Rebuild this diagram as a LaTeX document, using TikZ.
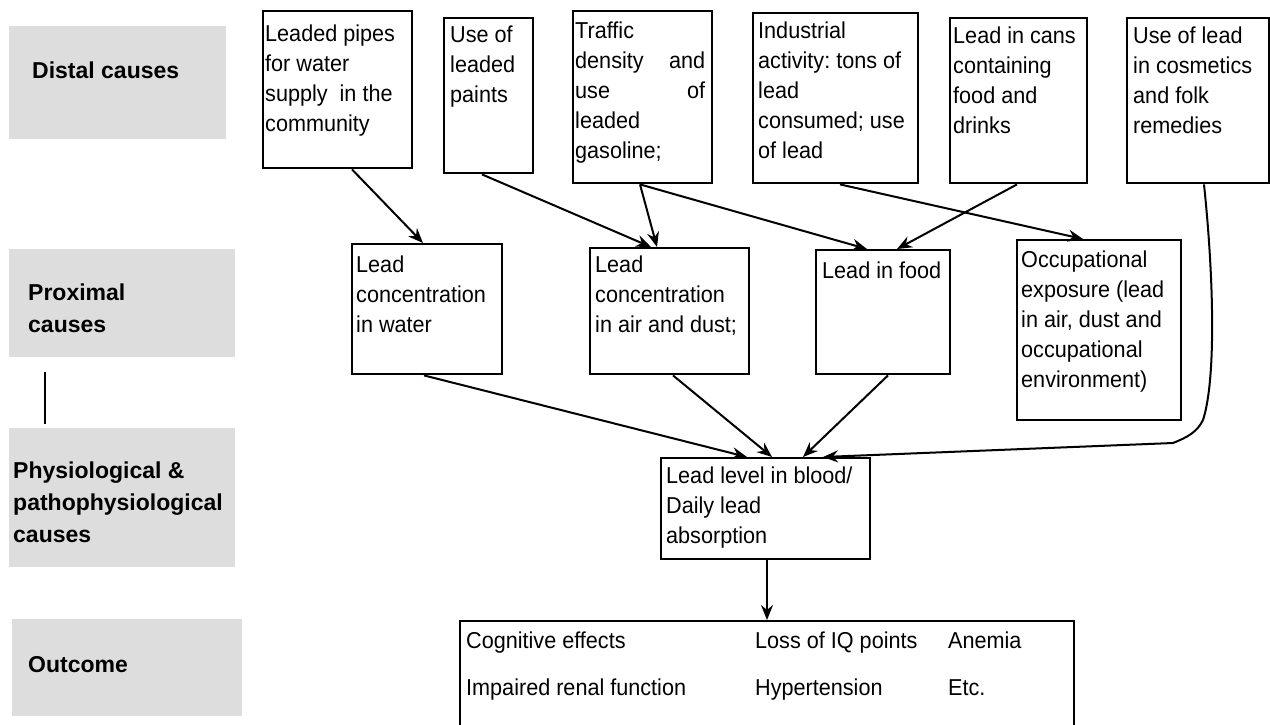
\documentclass[tikz,border=0pt]{standalone}
\usepackage{fontspec}
\setmainfont{Liberation Sans}
\newfontfamily\boxfont{Liberation Sans}[FakeStretch=0.94]
\usetikzlibrary{arrows.meta,calc}
\definecolor{graybg}{HTML}{DDDDDD}
\frenchspacing
% text set at the top left of a box, first baseline at the node's base
\newcommand{\boxtxt}[2]{\parbox[t]{#1}{\raggedright\boxfont\fontsize{23}{30}\selectfont #2}}
\newcommand{\labtxt}[2]{\parbox[t]{#1}{\raggedright\fontsize{23}{32}\selectfont\bfseries #2}}
\begin{document}
\begin{tikzpicture}[x=1pt,y=-1pt,
  cbox/.style={draw, line width=2.4pt, inner sep=0pt, anchor=north west},
  band/.style={fill=graybg, inner sep=0pt, anchor=north west},
  txt/.style={inner sep=0pt, anchor=base west},
  arr/.style={line width=2pt, -{Stealth[length=15pt,width=12pt,inset=5pt]}},
]
\useasboundingbox (0,0) rectangle (1270,724);

% level bands on the left
\node[band, minimum width=217pt, minimum height=113pt] (distal) at (9,26) {};
\node[band, minimum width=226pt, minimum height=108pt] (proximal) at (9,249) {};
\node[band, minimum width=226pt, minimum height=139pt] (physio) at (9,428) {};
\node[band, minimum width=230pt, minimum height=97pt] (outband) at (12,619) {};
\node[txt] (distalT) at (32,78) {\labtxt{200pt}{Distal causes}};
\node[txt] (proximalT) at (28,300) {\labtxt{200pt}{Proximal\\causes}};
\node[txt] (physioT) at (13,478) {\labtxt{230pt}{Physiological \&\\pathophysiological\\causes}};
\node[txt] (outbandT) at (28,672) {\labtxt{200pt}{Outcome}};
\coordinate (vtop) at (45,372);
\coordinate (vbot) at (45,424);
\draw[line width=1.6pt] (vtop) -- (vbot);

% distal causes
\node[cbox, minimum width=149pt, minimum height=157pt] (pipes) at (262,10) {};
\node[cbox, minimum width=89pt, minimum height=155pt] (paints) at (443,17) {};
\node[cbox, minimum width=139pt, minimum height=172pt] (traffic) at (572,10) {};
\node[cbox, minimum width=165pt, minimum height=170pt] (industry) at (752,12) {};
\node[cbox, minimum width=137pt, minimum height=165pt] (cans) at (949,17) {};
\node[cbox, minimum width=142pt, minimum height=165pt] (cosmetics) at (1126,17) {};
\node[txt] (pipesT) at (265,41) {\boxtxt{150pt}{Leaded pipes\\for water\\supply\ \ in the\\community}};
\node[txt] (paintsT) at (450,42) {\boxtxt{90pt}{Use of\\leaded\\paints}};
\node[txt] (trafficT) at (575,38) {\boxtxt{130pt}{Traffic\\density\hfill and\\use\hfill of\\leaded\\gasoline;}};
\node[txt] (industryT) at (758,38) {\boxtxt{160pt}{Industrial\\activity: tons of\\lead\\consumed; use\\of lead}};
\node[txt] (cansT) at (953,43) {\boxtxt{135pt}{Lead in cans\\containing\\food and\\drinks}};
\node[txt] (cosmeticsT) at (1133,43) {\boxtxt{135pt}{Use of lead\\in cosmetics\\and folk\\remedies}};

% proximal causes
\node[cbox, minimum width=150pt, minimum height=130pt] (water) at (351,243) {};
\node[cbox, minimum width=159pt, minimum height=126pt] (air) at (589,247) {};
\node[cbox, minimum width=134pt, minimum height=124pt] (food) at (815,249) {};
\node[cbox, minimum width=164pt, minimum height=180pt] (occup) at (1016,239) {};
\node[txt] (waterT) at (356,272) {\boxtxt{150pt}{Lead\\concentration\\in water}};
\node[txt] (airT) at (595,272) {\boxtxt{155pt}{Lead\\concentration\\in air and dust;}};
\node[txt] (foodT) at (822,278) {\boxtxt{130pt}{Lead in food}};
\node[txt] (occupT) at (1021,267) {\boxtxt{160pt}{Occupational\\exposure (lead\\in air, dust and\\occupational\\environment)}};

% physiological level
\node[cbox, minimum width=209pt, minimum height=101pt] (blood) at (660,457) {};
\node[txt] (bloodT) at (666,483) {\boxtxt{205pt}{Lead level in blood/\\Daily lead\\absorption}};

% outcome
\node[cbox, minimum width=614pt, minimum height=130pt] (outcome) at (459,620) {};
\node[txt] (o1) at (466,648) {\boxtxt{280pt}{Cognitive effects}};
\node[txt] (o2) at (755,648) {\boxtxt{190pt}{Loss of IQ points}};
\node[txt] (o3) at (948,648) {\boxtxt{120pt}{Anemia}};
\node[txt] (o4) at (466,695) {\boxtxt{280pt}{Impaired renal function}};
\node[txt] (o5) at (755,695) {\boxtxt{190pt}{Hypertension}};
\node[txt] (o6) at (948,695) {\boxtxt{120pt}{Etc.}};

% distal -> proximal
\draw[arr] ([xshift=90pt]pipes.south west) -- ([xshift=72pt]water.north west);
\draw[arr] ([xshift=39pt]paints.south west) -- ([xshift=62pt]air.north west);
\draw[arr] ([xshift=68pt]traffic.south west) -- ([xshift=68pt]air.north west);
\draw[arr] ([xshift=68pt]traffic.south west) -- ([xshift=52pt]food.north west);
\draw[arr] ([xshift=68pt]cans.south west) -- ([xshift=82pt]food.north west);
\draw[arr] ([xshift=88pt]industry.south west) -- ([xshift=67pt]occup.north west);

% proximal -> blood
\draw[arr] ([xshift=73pt]water.south west) -- ([xshift=87pt]blood.north west);
\draw[arr] ([xshift=84pt]air.south west) -- ([xshift=112pt]blood.north west);
\draw[arr] ([xshift=73pt]food.south west) -- ([xshift=143pt]blood.north west);
\coordinate (bend1) at (1203,420);
\coordinate (bend2) at (1173,443);
\draw[arr] ([xshift=78pt]cosmetics.south west)
  .. controls (1214,280) and (1216,380) .. (bend1)
  .. controls (1197,432) and (1188,437) .. (bend2)
  -- ([xshift=163pt]blood.north west);

% blood -> outcome
\draw[arr] ([xshift=107pt]blood.south west) -- ([xshift=308pt]outcome.north west);
\end{tikzpicture}
\end{document}
